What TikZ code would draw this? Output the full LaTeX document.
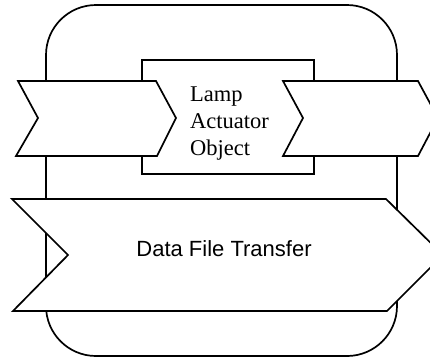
\documentclass[tikz,border=0pt]{standalone}
\usepackage{fontspec}
\setmainfont{Liberation Serif}
\newfontfamily\arialfont{Liberation Sans}
\tikzset{
  shape line/.style={draw=black, line width=1.7pt, fill=white, line join=miter},
  serif label/.style={inner sep=0pt, font=\fontsize{22.5}{27}\selectfont},
  sans label/.style={inner sep=0pt, font=\arialfont\fontsize{22}{26}\selectfont}
}
\begin{document}
\begin{tikzpicture}[x=1pt,y=-1pt]
\useasboundingbox[fill=white] (0,0) rectangle (430,360);
\clip (0,0) rectangle (430,360);
% outer rounded frame
\draw[shape line, rounded corners=50pt] (46,5) rectangle (397,356);
% inner object box
\draw[shape line] (142,60) rectangle (314,174);
% left chevron
\draw[shape line] (18,81) -- (156,81) -- (176,118) -- (157,156) -- (16,156) -- (38,118) -- cycle;
% right chevron
\draw[shape line] (283,81) -- (418,81) -- (438,118) -- (418,156) -- (283,156) -- (303,118) -- cycle;
% bottom chevron
\draw[shape line] (12,199) -- (386,199) -- (443,255) -- (387,311) -- (13,311) -- (68,255) -- cycle;
% labels
\node[serif label, anchor=base west] (l1) at (190,101) {Lamp};
\node[serif label, anchor=base west] (l2) at (190,128) {Actuator};
\node[serif label, anchor=base west] (l3) at (190,155) {Object};
\node[sans label, anchor=base] (dft) at (224,256) {Data File Transfer};
\end{tikzpicture}
\end{document}
